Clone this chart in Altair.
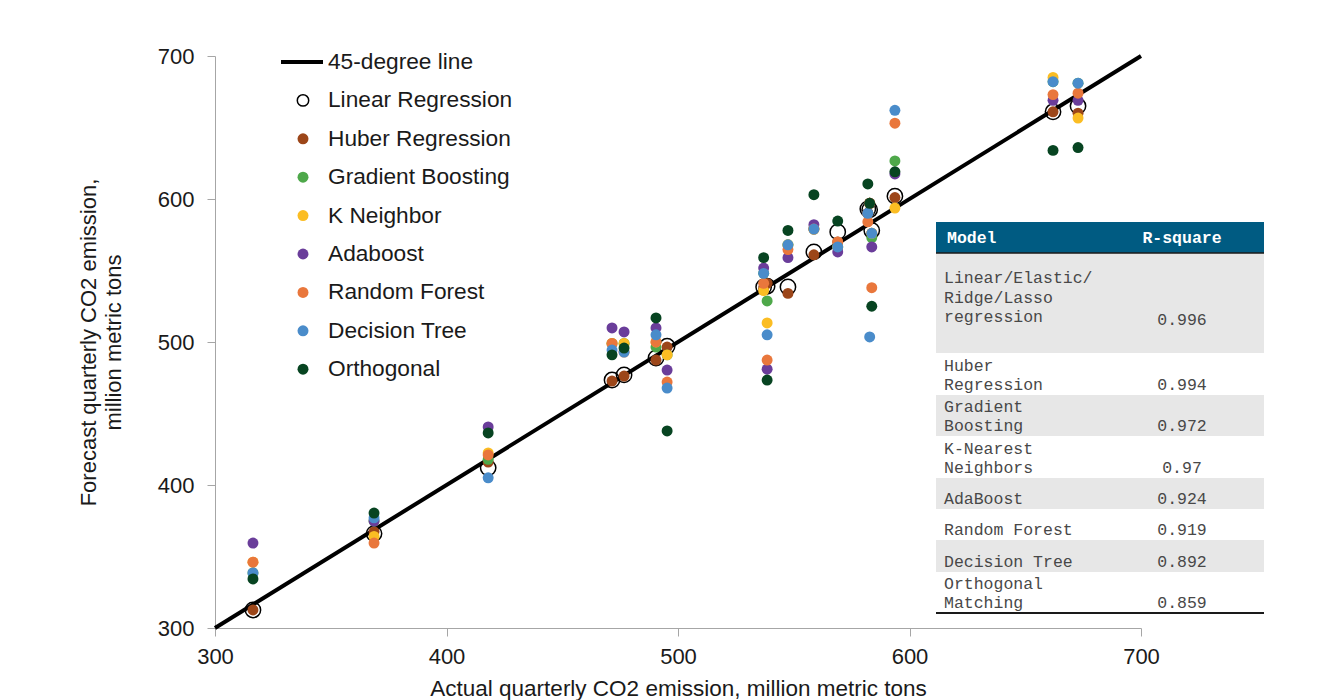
import altair as alt
import pandas as pd

# ---------------- data ----------------
MODELS = ["Linear Regression", "Huber Regression", "Gradient Boosting", "K Neighbor",
          "Adaboost", "Random Forest", "Decision Tree", "Orthogonal"]
COLORS = ["#ffffff", "#9c4619", "#4ea84a", "#fbbd23", "#6a3d9a", "#e9773c", "#4a8cca", "#074421"]

ACTUAL = [316.4, 368.7, 418.0, 471.5, 476.7, 490.5, 495.3, 537.0, 538.5, 547.5,
          558.7, 569.0, 582.0, 582.8, 583.7, 593.7, 662.0, 672.8]

LINEAR = [312.6, 366.0, 412.0, 473.4, 477.0, 488.8, 497.0, 538.5, 539.0, 538.5,
          563.0, 577.0, 593.0, 592.5, 578.0, 602.0, 661.0, 665.0]
HUBER = [312.6, 367.3, 416.0, 472.7, 476.2, 487.4, 496.5, 537.5, 541.0, 534.0,
         561.0, 570.0, 590.0, 597.0, 576.0, 601.0, 661.0, 660.0]
GRADIENT = [338.5, 374.8, 418.0, 499.0, 499.0, 496.5, 491.0, 548.0, 528.7, 568.0,
            579.0, 566.5, 590.0, 597.0, 573.0, 626.6, 682.0, 681.0]
KNEIGHBOR = [346.0, 364.0, 422.4, 499.0, 499.0, 500.0, 491.0, 536.0, 513.3, 568.0,
             579.0, 566.5, 590.0, 597.0, 576.0, 593.7, 685.0, 656.6]
ADABOOST = [359.4, 374.8, 440.6, 509.8, 507.0, 509.8, 480.4, 551.7, 481.0, 559.0,
            582.0, 563.0, 590.0, 597.0, 566.5, 617.5, 669.0, 669.0]
RANDOMF = [346.0, 359.4, 421.0, 499.0, 493.0, 500.0, 472.0, 541.0, 487.4, 564.6,
           579.0, 570.0, 584.0, 597.0, 538.0, 653.0, 673.0, 674.0]
DTREE = [338.5, 377.0, 405.0, 494.4, 493.0, 505.0, 467.8, 548.0, 505.0, 568.0,
         579.0, 566.5, 590.0, 503.5, 576.0, 662.0, 682.0, 681.0]
ORTHO = [334.3, 380.4, 436.4, 491.0, 495.8, 516.8, 437.8, 559.0, 473.4, 578.0,
         603.0, 584.6, 610.5, 597.0, 525.0, 619.0, 634.0, 636.0]

LINE_45 = [300, 700]
TICKS = [300, 400, 500, 600, 700]

TABLE_HEADER = ["Model", "R-square"]
TABLE_MODELS = [["Linear/Elastic/", "Ridge/Lasso", "regression"],
                ["Huber", "Regression"], ["Gradient", "Boosting"],
                ["K-Nearest", "Neighbors"], ["AdaBoost"], ["Random Forest"],
                ["Decision Tree"], ["Orthogonal", "Matching"]]
TABLE_R2 = ["0.996", "0.994", "0.972", "0.97", "0.924", "0.919", "0.892", "0.859"]

# ---------------- layout (pixels, plot-area coordinates) ----------------
W, H = 926, 572
PAD = {"left": 207, "top": 48, "right": 150, "bottom": 72}
FONT = "Liberation Sans"
MONO = "Liberation Mono"

TBL_X0, TBL_X1 = 721, 1049
HDR_Y0, HDR_Y1 = 166, 197
ROW_EDGES = [197, 297, 339, 380, 422, 453, 484, 516, 557]
ROW_GAP = [36, 10, 10, 10, 10, 10, 10, 10]
VAL_SHIFT = [3, 0, 0, 0, 0, 0, 0, 0]
LINE_STEP = 19.5
NAME_X, VAL_X = 729, 967

LEG_Y0, LEG_STEP = 6, 38.4
LEG_SYM_X, LEG_TXT_X = 88, 113

# ---------------- build tables ----------------
series = [LINEAR, HUBER, GRADIENT, KNEIGHBOR, ADABOOST, RANDOMF, DTREE, ORTHO]
rows = []
for m, vals in zip(MODELS, series):
    for a, f in zip(ACTUAL, vals):
        rows.append({"model": m, "actual": a, "forecast": f})
df = pd.DataFrame(rows)

xs = alt.Scale(domain=[300, 700], nice=False, zero=False)
ys = alt.Scale(domain=[300, 700], nice=False, zero=False)
PX = alt.Scale(domain=[0, W], range=[0, W], nice=False, zero=False)
PY = alt.Scale(domain=[0, H], range=[0, H], nice=False, zero=False)

x_axis = alt.Axis(values=TICKS, grid=False, tickSize=8, domainColor="#a6a6a6",
                  tickColor="#a6a6a6", labelFont=FONT, labelFontSize=22,
                  labelColor="#1a1a1a", labelPadding=10, labelFlush=False,
                  title="Actual quarterly CO2 emission, million metric tons",
                  titleFont=FONT, titleFontSize=22.5, titleFontWeight="normal",
                  titleColor="#1a1a1a", titleY=60, titleBaseline="middle")
y_axis = alt.Axis(values=TICKS, grid=False, tickSize=8, domainColor="#a6a6a6",
                  tickColor="#a6a6a6", labelFont=FONT, labelFontSize=22,
                  labelColor="#1a1a1a", labelPadding=13, labelFlush=False,
                  title=["Forecast quarterly CO2 emission,", "million metric tons"],
                  titleFont=FONT, titleFontSize=22, titleFontWeight="normal",
                  titleColor="#1a1a1a", titleX=-127, titleY=H / 2, titleAngle=-90,
                  titleAlign="center", titleBaseline="middle", titleLineHeight=25)

line = alt.Chart(pd.DataFrame({"x": LINE_45, "y": LINE_45})).mark_line(
    color="black", strokeWidth=4).encode(
    x=alt.X("x:Q", scale=xs, axis=None), y=alt.Y("y:Q", scale=ys, axis=None))

rings = alt.Chart(df[df.model == MODELS[0]]).mark_point(
    shape="circle", filled=False, size=235, stroke="black", strokeWidth=1.5, opacity=1).encode(
    x=alt.X("actual:Q", scale=xs, axis=None), y=alt.Y("forecast:Q", scale=ys, axis=None))

dots = alt.Chart(df[df.model != MODELS[0]]).mark_circle(size=120, opacity=1).encode(
    x=alt.X("actual:Q", scale=xs, axis=x_axis),
    y=alt.Y("forecast:Q", scale=ys, axis=y_axis),
    color=alt.Color("model:N", scale=alt.Scale(domain=MODELS[1:], range=COLORS[1:]), legend=None))

# ---- custom legend ----
leg_y = [LEG_Y0 + LEG_STEP * i for i in range(len(MODELS) + 1)]
leg_line = alt.Chart(pd.DataFrame({"x": [LEG_SYM_X - 22], "x2": [LEG_TXT_X - 5], "y": [leg_y[0]]})).mark_rule(
    color="black", strokeWidth=4).encode(
    x=alt.X("x:Q", scale=PX, axis=None), x2="x2:Q", y=alt.Y("y:Q", scale=PY, axis=None))
leg_ring = alt.Chart(pd.DataFrame({"x": [LEG_SYM_X], "y": [leg_y[1]]})).mark_point(
    shape="circle", filled=False, size=130, stroke="black", strokeWidth=1.5, opacity=1).encode(
    x=alt.X("x:Q", scale=PX, axis=None), y=alt.Y("y:Q", scale=PY, axis=None))
leg_dots_df = pd.DataFrame({"x": [LEG_SYM_X] * 7, "y": leg_y[2:], "c": COLORS[1:]})
leg_dots = alt.Chart(leg_dots_df).mark_circle(size=120, opacity=1).encode(
    x=alt.X("x:Q", scale=PX, axis=None), y=alt.Y("y:Q", scale=PY, axis=None),
    color=alt.Color("c:N", scale=None))
leg_txt_df = pd.DataFrame({"x": [LEG_TXT_X] * 9, "y": leg_y, "t": ["45-degree line"] + MODELS})
leg_txt = alt.Chart(leg_txt_df).mark_text(
    align="left", baseline="middle", font=FONT, fontSize=22.7, color="#1a1a1a").encode(
    x=alt.X("x:Q", scale=PX, axis=None), y=alt.Y("y:Q", scale=PY, axis=None), text="t:N")

# ---- table ----
hdr_rect = alt.Chart(pd.DataFrame({"x": [TBL_X0], "x2": [TBL_X1], "y": [HDR_Y0], "y2": [HDR_Y1]})).mark_rect(
    color="#005b82").encode(
    x=alt.X("x:Q", scale=PX, axis=None), x2="x2:Q", y=alt.Y("y:Q", scale=PY, axis=None), y2="y2:Q")
gray_rows = pd.DataFrame({"x": [TBL_X0] * 4, "x2": [TBL_X1] * 4,
                          "y": [ROW_EDGES[i] for i in (0, 2, 4, 6)],
                          "y2": [ROW_EDGES[i + 1] for i in (0, 2, 4, 6)]})
gray_rect = alt.Chart(gray_rows).mark_rect(color="#e7e7e7").encode(
    x=alt.X("x:Q", scale=PX, axis=None), x2="x2:Q", y=alt.Y("y:Q", scale=PY, axis=None), y2="y2:Q")
rules_df = pd.DataFrame({"x": [TBL_X0, TBL_X0], "x2": [TBL_X1, TBL_X1],
                         "y": [HDR_Y1, ROW_EDGES[-1]], "w": [1.5, 2.0]})
tbl_rules = alt.Chart(rules_df).mark_rule(color="#1a1a1a").encode(
    x=alt.X("x:Q", scale=PX, axis=None), x2="x2:Q", y=alt.Y("y:Q", scale=PY, axis=None),
    strokeWidth=alt.StrokeWidth("w:Q", scale=None))
hdr_left = alt.Chart(pd.DataFrame({"x": [NAME_X + 3], "y": [(HDR_Y0 + HDR_Y1) / 2],
                                   "t": [TABLE_HEADER[0]]})).mark_text(
    align="left", baseline="middle", font=MONO, fontSize=16.5, fontWeight="bold", color="white").encode(
    x=alt.X("x:Q", scale=PX, axis=None), y=alt.Y("y:Q", scale=PY, axis=None), text="t:N")
hdr_right = alt.Chart(pd.DataFrame({"x": [VAL_X], "y": [(HDR_Y0 + HDR_Y1) / 2],
                                    "t": [TABLE_HEADER[1]]})).mark_text(
    align="center", baseline="middle", font=MONO, fontSize=16.5, fontWeight="bold", color="white").encode(
    x=alt.X("x:Q", scale=PX, axis=None), y=alt.Y("y:Q", scale=PY, axis=None), text="t:N")
name_rows, val_rows = [], []
for i, (lines, r2) in enumerate(zip(TABLE_MODELS, TABLE_R2)):
    last = ROW_EDGES[i + 1] - ROW_GAP[i]
    n = len(lines)
    for j, ln in enumerate(lines):
        name_rows.append({"x": NAME_X, "y": last - (n - 1 - j) * LINE_STEP, "t": ln})
    val_rows.append({"x": VAL_X, "y": last + VAL_SHIFT[i], "t": r2})
name_txt = alt.Chart(pd.DataFrame(name_rows)).mark_text(
    align="left", baseline="middle", font=MONO, fontSize=16.5, color="#484848").encode(
    x=alt.X("x:Q", scale=PX, axis=None), y=alt.Y("y:Q", scale=PY, axis=None), text="t:N")
val_txt = alt.Chart(pd.DataFrame(val_rows)).mark_text(
    align="center", baseline="middle", font=MONO, fontSize=16.5, color="#484848").encode(
    x=alt.X("x:Q", scale=PX, axis=None), y=alt.Y("y:Q", scale=PY, axis=None), text="t:N")

chart = alt.layer(
    line, rings, dots,
    leg_line, leg_ring, leg_dots, leg_txt,
    hdr_rect, gray_rect, tbl_rules, hdr_left, hdr_right, name_txt, val_txt,
).resolve_scale(
    x="independent", y="independent", color="independent", strokeWidth="independent"
).properties(
    width=W, height=H, padding=PAD, autosize=alt.AutoSizeParams(type="none"),
    background="white"
).configure_view(strokeWidth=0)

chart.save("out.html", embed_options={"renderer": "svg", "actions": False})
